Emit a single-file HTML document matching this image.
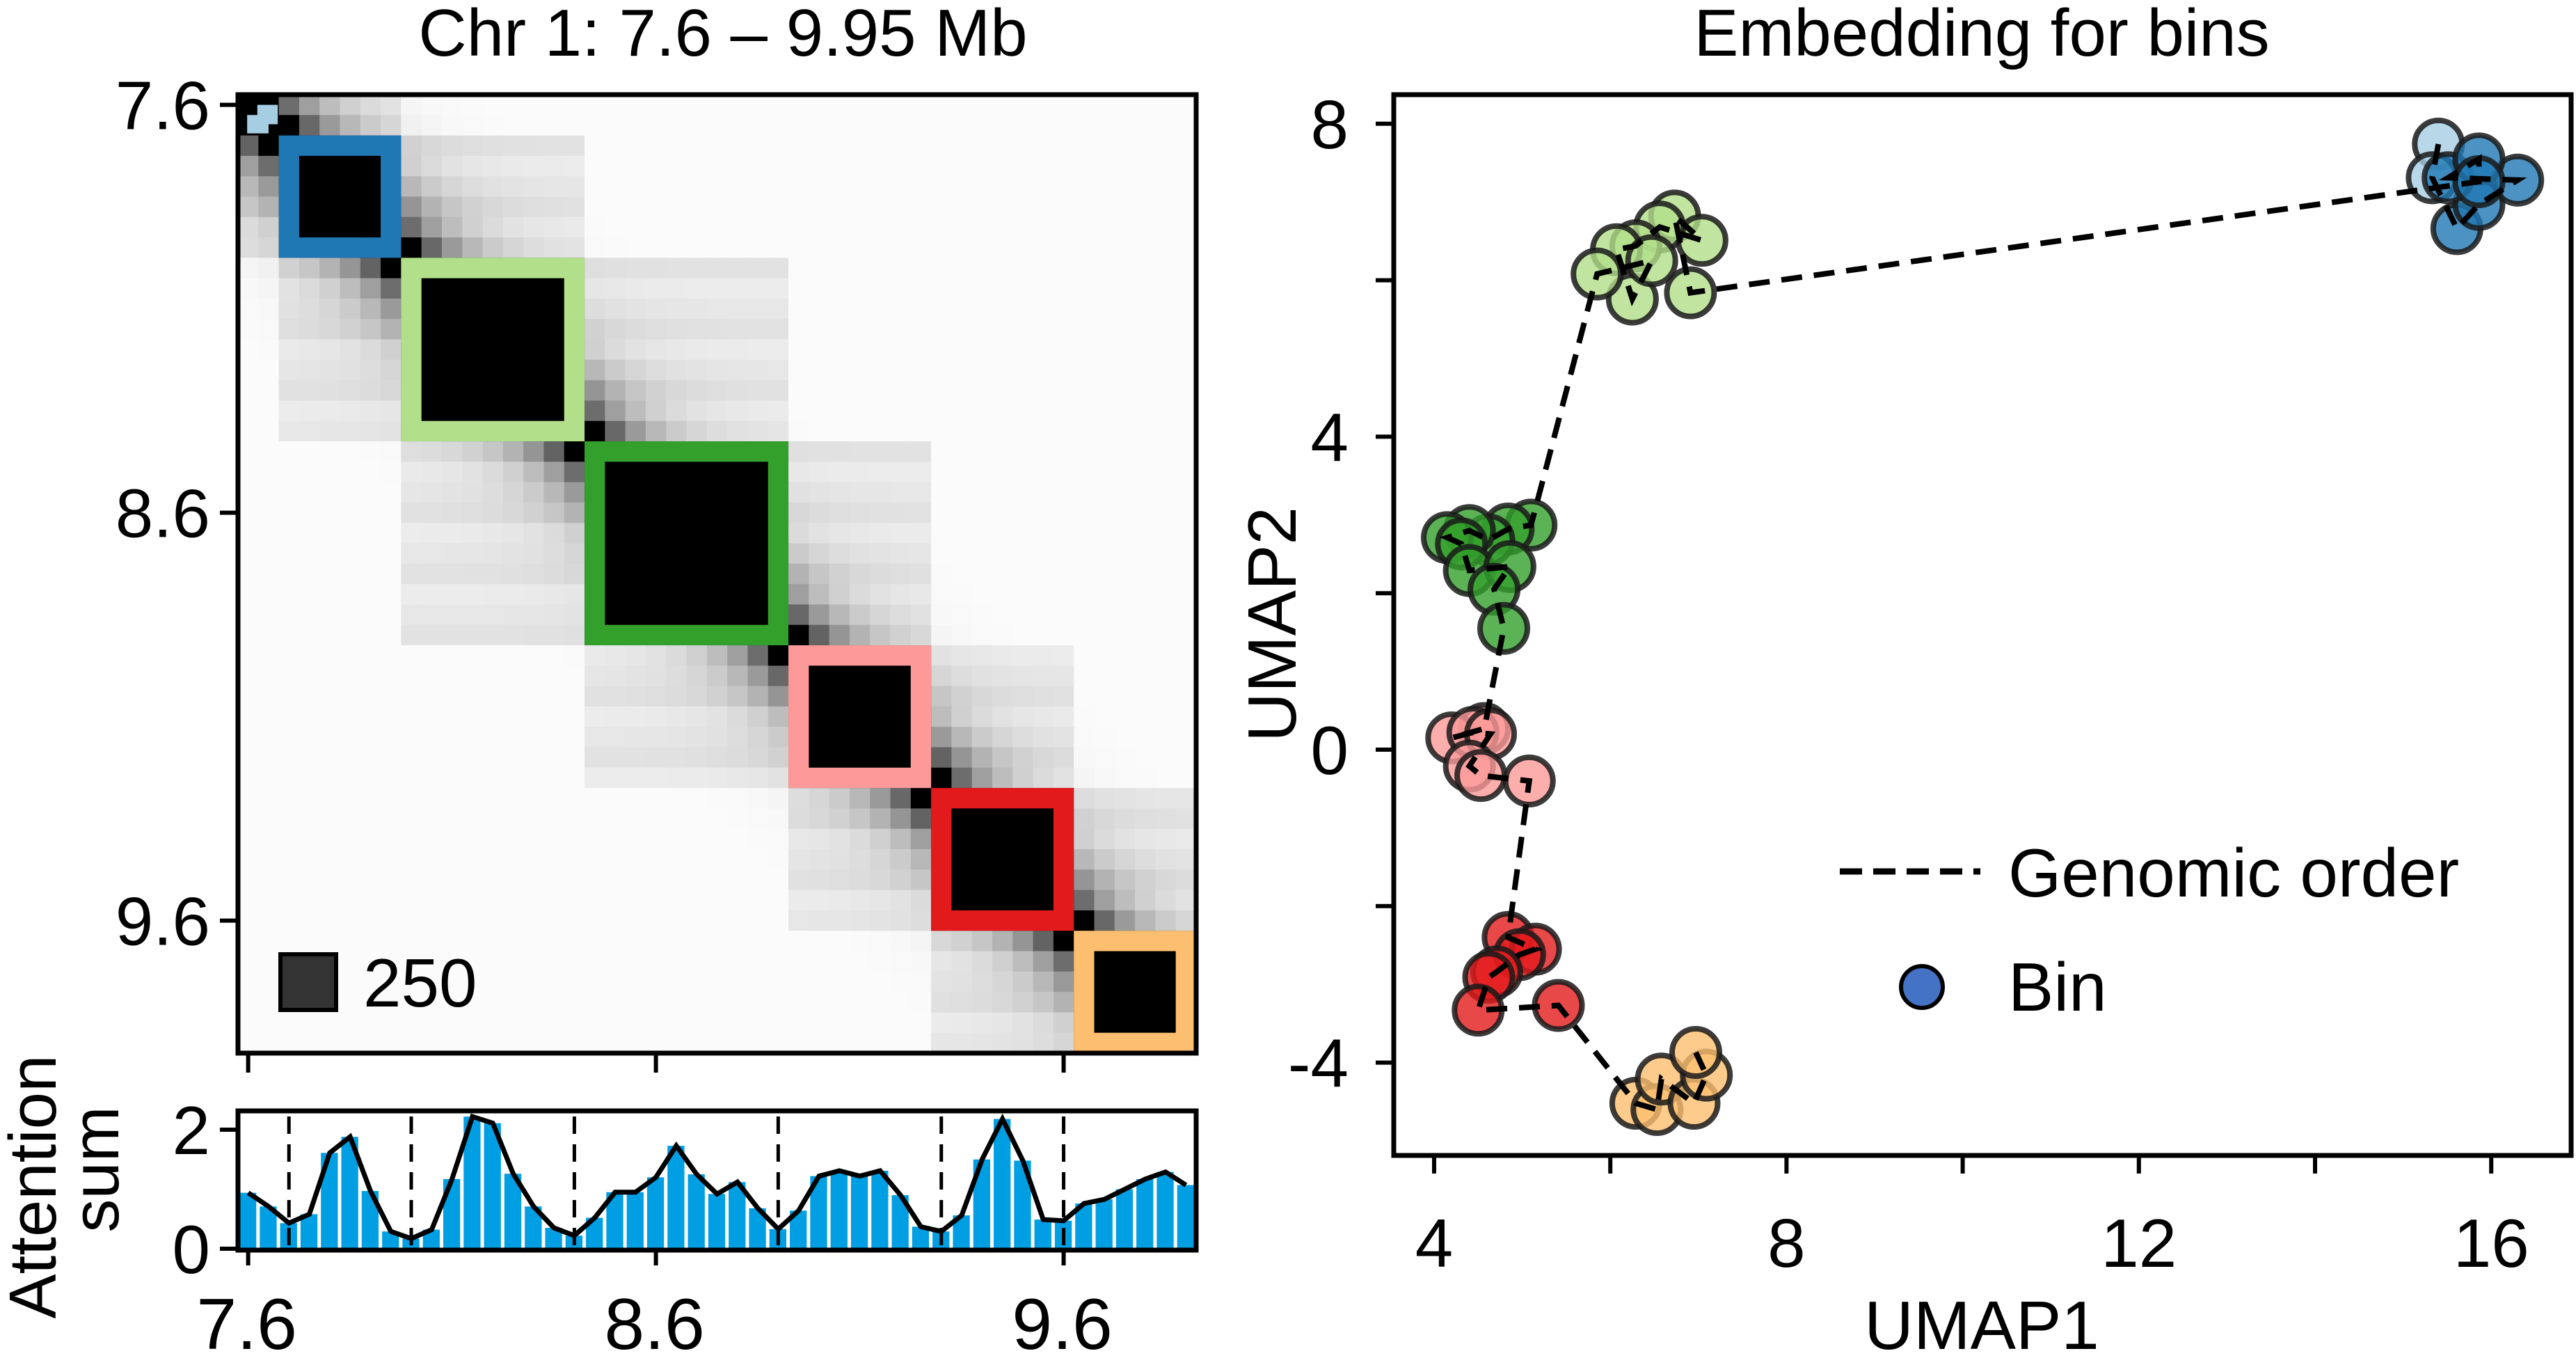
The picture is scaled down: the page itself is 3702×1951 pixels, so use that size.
<!DOCTYPE html>
<html><head><meta charset="utf-8"><style>
html,body{margin:0;padding:0;background:#fff;}
svg{display:block;font-family:"Liberation Sans",Arial,sans-serif;}
</style></head><body>
<svg id="fig" width="3702" height="1951" viewBox="0 0 3702 1951" xmlns="http://www.w3.org/2000/svg">
<g id="heat"></g>
<g id="bars"></g>
<g id="umap"></g>
</svg>
<script>
// ---------- data ----------
const nBins = 47;
const binStartMb = 7.575, binSizeMb = 0.05;
const domainStart = [0, 2, 8, 17, 27, 34, 41];
const domainEnd   = [1, 7, 16, 26, 33, 40, 46];
const domainColors = ["#a6cee3","#1f78b4","#b2df8a","#33a02c","#fb9a99","#e31a1c","#fdbf6f"];
const attention = [0.94,0.71,0.43,0.58,1.61,1.88,0.97,0.29,0.17,0.32,1.17,2.22,2.11,1.26,0.71,0.35,0.22,0.52,0.95,0.95,1.20,1.73,1.25,0.92,1.12,0.68,0.33,0.64,1.22,1.31,1.22,1.31,0.90,0.37,0.29,0.56,1.50,2.18,1.48,0.49,0.47,0.76,0.83,1.00,1.17,1.29,1.07];
const boundaryBins = [2, 8, 16, 26, 34, 40];
const mbTicks = [7.6, 8.6, 9.6];
const attTicks = [0, 2];
const umapX = [15.40,15.33, 15.61,15.86,16.30,15.51,15.86,15.86, 6.91,6.73,7.04,6.56,6.29,6.07,6.25,6.47,5.85, 5.10,4.84,4.62,4.40,4.15,4.31,4.40,4.86,4.68,4.79, 4.57,4.20,4.44,4.64,4.40,4.53,5.08, 4.84,5.15,4.97,4.71,4.62,4.50,5.41, 6.29,6.53,6.58,6.95,7.09,6.97];
const umapY = [7.74,7.31, 6.66,6.97,7.28,7.31,7.55,7.26, 5.84,6.82,6.51,6.68,6.44,6.39,5.76,6.25,6.08, 2.87,2.82,2.68,2.80,2.71,2.63,2.29,2.34,2.05,1.55, 0.27,0.15,0.22,0.20,-0.21,-0.33,-0.40, -2.40,-2.55,-2.62,-2.84,-2.91,-3.33,-3.27, -4.52,-4.60,-4.21,-4.52,-4.16,-3.87];
const umapXTicks = [4, 8, 12, 16];
const umapYTicks = [8, 4, 0, -4];

// ---------- helpers ----------
const NS = "http://www.w3.org/2000/svg";
function mk(parent, tag, attrs, text){
  const e = document.createElementNS(NS, tag);
  for (const k in attrs) e.setAttribute(k, attrs[k]);
  if (text !== undefined) e.textContent = text;
  parent.appendChild(e); return e;
}
function domainOf(i){ for (let k=0;k<domainStart.length;k++) if (i>=domainStart[k] && i<=domainEnd[k]) return k; return -1; }

// ---------- heatmap ----------
const HX0 = 342, HY0 = 136, HW = 1377, cell = HW / nBins;
const heat = document.getElementById('heat');
const mbToPx = mb => HX0 + ((mb - binStartMb) / binSizeMb) * cell;
for (let i=0;i<nBins;i++) for (let j=0;j<nBins;j++){
  const d = Math.abs(i-j), di = domainOf(i), dj = domainOf(j);
  let v;
  if (di === dj || d <= 1) v = 1;
  else {
    v = 0.5*Math.exp(-(d-2)/2.0) + 0.01;
    if (Math.abs(di-dj) === 1) v += 0.06 + 0.04*((i*7+j*3)%3)/2;
  }
  v = Math.min(1, v);
  const g = Math.round(254*(1-v));
  const r = mk(heat, 'rect', {x: HX0+j*cell, y: HY0+i*cell, width: cell+0.6, height: cell+0.6, fill: `rgb(${g},${g},${g})`});
  
  
}
for (let k=1;k<domainStart.length;k++){
  const s = domainStart[k], e = domainEnd[k] + 1;
  const r = mk(heat, 'rect', {x: HX0+s*cell+cell/2, y: HY0+s*cell+cell/2, width: (e-s-1)*cell, height: (e-s-1)*cell, fill: 'none', stroke: domainColors[k], 'stroke-width': cell});
  
  
}
{
  const lb = mk(heat, 'path', {d: `M${HX0+0.45*cell} ${HY0+1.9*cell} V${HY0+1.0*cell} H${HX0+0.95*cell} V${HY0+0.5*cell} H${HX0+1.95*cell} V${HY0+1.45*cell} H${HX0+1.5*cell} V${HY0+1.9*cell} Z`, fill: domainColors[0]});
  
  
}
mk(heat, 'rect', {x: HX0, y: HY0, width: HW, height: HW, fill: 'none', stroke: '#000', 'stroke-width': 7,  });
mbTicks.forEach(t => {
  const p = mbToPx(t);
  const yy = HY0 + (p - HX0);
  mk(heat, 'line', {x1: HX0-26, x2: HX0, y1: yy, y2: yy, stroke: '#000', 'stroke-width': 6});
  const lbl = mk(heat, 'text', {x: HX0-40, y: yy+35, 'font-size': 98, 'text-anchor': 'end'}, t.toFixed(1));
  
  
  mk(heat, 'line', {x1: p, x2: p, y1: HY0+HW, y2: HY0+HW+28, stroke: '#000', 'stroke-width': 6});
});
mk(heat, 'text', {x: 1039, y: 80, 'font-size': 96, 'text-anchor': 'middle',  }, 'Chr 1: 7.6 – 9.95 Mb');
mk(heat, 'rect', {x: 403, y: 1371, width: 80, height: 80, fill: '#333', stroke: '#000', 'stroke-width': 6,  });
mk(heat, 'text', {x: 522, y: 1446, 'font-size': 98,  }, '250');

// ---------- bar chart ----------
const BY0 = 1596, BY1 = 1796;
const bars = document.getElementById('bars');
const attToPx = v => 1794 - v*85.5;
attention.forEach((v,i) => {
  const r = mk(bars, 'rect', {x: HX0+i*cell+2, y: attToPx(v), width: cell-5, height: 1794-attToPx(v), fill: '#009fe3'});
  
  
});
const pts = attention.map((v,i) => `${HX0+(i+0.5)*cell},${attToPx(v)}`).join(' ');
const pl = mk(bars, 'polyline', {points: pts, fill: 'none', stroke: '#000', 'stroke-width': 7, 'stroke-linejoin': 'miter'});


boundaryBins.forEach(b => {
  const x = HX0 + (b+0.5)*cell;
  const l = mk(bars, 'line', {x1: x, x2: x, y1: BY0+8, y2: BY1, stroke: '#000', 'stroke-width': 5, 'stroke-dasharray': '25 15'});
  
  
});
mk(bars, 'rect', {x: HX0, y: BY0, width: HW, height: BY1-BY0, fill: 'none', stroke: '#000', 'stroke-width': 7,  });
attTicks.forEach(t => {
  const y = attToPx(t);
  mk(bars, 'line', {x1: HX0-26, x2: HX0, y1: y, y2: y, stroke: '#000', 'stroke-width': 6});
  const lbl = mk(bars, 'text', {x: HX0-40, y: y+35, 'font-size': 98, 'text-anchor': 'end'}, String(t));
  
  
});
mbTicks.forEach(t => {
  const p = mbToPx(t);
  mk(bars, 'line', {x1: p, x2: p, y1: BY1, y2: BY1+22, stroke: '#000', 'stroke-width': 6});
  const lbl = mk(bars, 'text', {x: p-2, y: 1938, 'font-size': 104, 'text-anchor': 'middle'}, t.toFixed(1));
  
  
});
mk(bars, 'text', {transform: 'translate(80,1705) rotate(-90)', 'font-size': 96, 'text-anchor': 'middle',  }, 'Attention');
mk(bars, 'text', {transform: 'translate(170,1680) rotate(-90)', 'font-size': 96, 'text-anchor': 'middle',  }, 'sum');

// ---------- UMAP ----------
const umap = document.getElementById('umap');
const UX0 = 2003, UY0 = 136, UX1 = 3695, UY1 = 1660;
const ux = v => 2061 + (v-4)*126.6;
const uy = v => 1077 - v*112.4;
mk(umap, 'text', {x: 2848, y: 80, 'font-size': 96, 'text-anchor': 'middle',  }, 'Embedding for bins');
const pathPts = umapX.map((x,i) => `${ux(x)},${uy(umapY[i])}`).join(' ');
umapX.forEach((x,i) => {
  const c = mk(umap, 'circle', {cx: ux(x), cy: uy(umapY[i]), r: 34, fill: domainColors[domainOf(i)], 'fill-opacity': 0.8, stroke: '#1a1a1a', 'stroke-opacity': 0.85, 'stroke-width': 8});
  
  
});
const gp = mk(umap, 'polyline', {points: pathPts, fill: 'none', stroke: '#000', 'stroke-width': 8, 'stroke-dasharray': '30 17'});


mk(umap, 'rect', {x: UX0, y: UY0, width: UX1-UX0, height: UY1-UY0, fill: 'none', stroke: '#000', 'stroke-width': 7,  });
[4,6,8,10,12,14,16].forEach(t => mk(umap, 'line', {x1: ux(t), x2: ux(t), y1: UY1, y2: UY1+26, stroke: '#000', 'stroke-width': 6}));
[8,6,4,2,0,-2,-4].forEach(t => mk(umap, 'line', {x1: UX0-26, x2: UX0, y1: uy(t), y2: uy(t), stroke: '#000', 'stroke-width': 6}));
umapXTicks.forEach(t => {
  const lbl = mk(umap, 'text', {x: ux(t), y: 1820, 'font-size': 98, 'text-anchor': 'middle'}, String(t));
  
  
});
umapYTicks.forEach(t => {
  const lbl = mk(umap, 'text', {x: 1938, y: uy(t)+35, 'font-size': 98, 'text-anchor': 'end'}, String(t));
  
  
});
mk(umap, 'text', {x: 2848, y: 1938, 'font-size': 98, 'text-anchor': 'middle',  }, 'UMAP1');
mk(umap, 'text', {transform: 'translate(1862,897) rotate(-90)', 'font-size': 98, 'text-anchor': 'middle',  }, 'UMAP2');
mk(umap, 'line', {x1: 2644, x2: 2846, y1: 1252, y2: 1252, stroke: '#000', 'stroke-width': 9, 'stroke-dasharray': '32 16',  });
mk(umap, 'text', {x: 2886, y: 1288, 'font-size': 98,  }, 'Genomic order');
mk(umap, 'circle', {cx: 2762, cy: 1418, r: 30, fill: '#4472c4', stroke: '#000', 'stroke-width': 6,  });
mk(umap, 'text', {x: 2886, y: 1452, 'font-size': 98,  }, 'Bin');
</script>
</body></html>
